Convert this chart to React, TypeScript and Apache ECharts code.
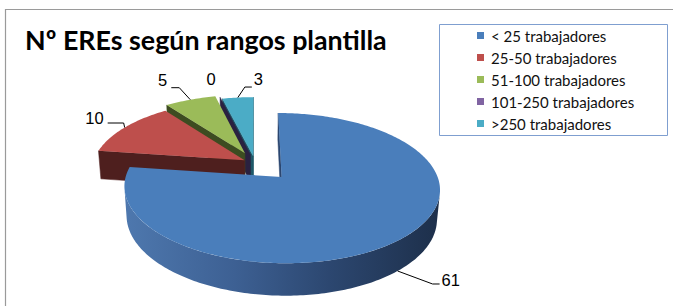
import React, { useEffect, useRef } from 'react';
import * as echarts from 'echarts';

// ---- data ----
const categories = ['< 25 trabajadores', '25-50 trabajadores', '51-100 trabajadores', '101-250 trabajadores', '>250 trabajadores'];
const values = [61, 10, 5, 0, 3];
const titleText = 'Nº EREs según rangos plantilla';

// ---- styles ----
const topColors = ['#4a7ebb', '#be4f4c', '#9bbb59', '#8064a2', '#4bacc6'];
const wallColors = ['#2b4670', '#4e1f1e', '#3d4c21', '#2a2140', '#1f5868'];
const explode = [0.26, 0.08, 0.16, 0.13, 0.1];
// label placement relative to the slice's rim anchor: elbow, end of leader, text position
const labelLayouts: any[] = [
  { elbow: [35, 13], end: [42, 13], text: [44, 9], align: 'left' },
  { elbow: [-1, -4.5], end: [-17, -4.5], text: [-21, -10], align: 'right' },
  { elbow: [-11, -12], end: [-19, -12], text: [-23, -20], align: 'right' },
  { elbow: null, end: null, text: [-9, -18], align: 'center' },
  { elbow: [7, -10.5], end: [14, -10.5], text: [16, -18.5], align: 'left' },
];

// ---- 3D projection ----
const CX = 255, CY = 163, R = 151.6, H = 32.6, SIN = 0.4575, COS = 0.889, DIST = 936;
const project = (X: number, Y: number, Z: number): number[] => {
  const d = Y * COS - Z * SIN;
  const s = DIST / (DIST + d);
  return [CX + X * s, CY - (Y * SIN + Z * COS) * s];
};

const total = values.reduce((a, b) => a + b, 0);
const starts = values.map((_, i) => values.slice(0, i).reduce((a, b) => a + b, 0));

function renderSlice(i: number, value: number) {
  const a0 = (starts[i] / total) * Math.PI * 2;
  const a1 = ((starts[i] + value) / total) * Math.PI * 2;
  const mid = (a0 + a1) / 2;
  const q = explode[i] * R;
  const ox = q * Math.sin(mid), oy = q * Math.cos(mid);
  const rim = (t: number, z: number) => project(ox + R * Math.sin(t), oy + R * Math.cos(t), z);
  const apexTop = project(ox, oy, 0);
  const apexBot = project(ox, oy, -H);
  const children: any[] = [];
  let z2 = 1;
  const camX = -ox, camY = -DIST * COS - oy;

  // radial walls
  const startVis = -Math.cos(a0) * camX + Math.sin(a0) * camY > 0;
  const endVis = Math.cos(a1) * camX - Math.sin(a1) * camY > 0;
  const radial = (a: number) => ({
    type: 'polygon', z2: z2++,
    shape: { points: [apexTop, rim(a, 0), rim(a, -H), apexBot] },
    style: { fill: wallColors[i], stroke: wallColors[i], lineWidth: 0.5 },
  });
  if (startVis) children.push(radial(a0));
  if (endVis && value > 0) children.push(radial(a1));

  // outer wall
  const A = -ox, B = -(DIST * COS + oy);
  const M = Math.hypot(A, B);
  const th0 = Math.atan2(A, B);
  const half = Math.acos(Math.min(1, R / M));
  for (let k = -1; k <= 1; k++) {
    const lo = Math.max(a0, th0 - half + 2 * Math.PI * k);
    const hi = Math.min(a1, th0 + half + 2 * Math.PI * k);
    if (hi > lo) {
      const n = Math.max(2, Math.ceil((hi - lo) / (Math.PI / 180)));
      const topPts: number[][] = [], botPts: number[][] = [];
      for (let j = 0; j <= n; j++) {
        const t = lo + ((hi - lo) * j) / n;
        topPts.push(rim(t, 0));
        botPts.push(rim(t, -H));
      }
      const fill = i === 0
        ? new echarts.graphic.LinearGradient(0, 0, 1, 0, [
            { offset: 0, color: '#4e78ae' },
            { offset: 0.35, color: '#3d6093' },
            { offset: 0.65, color: '#2c4770' },
            { offset: 1, color: '#1d2f4a' },
          ])
        : wallColors[i];
      children.push({
        type: 'polygon', z2: z2++,
        shape: { points: topPts.concat(botPts.reverse()) },
        style: { fill },
      });
    }
  }

  // top face
  if (value > 0) {
    const n = Math.max(2, Math.ceil((a1 - a0) / (Math.PI / 180)));
    const pts: number[][] = [apexTop];
    for (let j = 0; j <= n; j++) pts.push(rim(a0 + ((a1 - a0) * j) / n, 0));
    children.push({
      type: 'polygon', z2: z2++,
      shape: { points: pts },
      style: { fill: topColors[i] },
    });
  }

  // label
  const anchor = Math.cos(mid) < 0 ? rim(mid, -H) : rim(mid, 0);
  const L = labelLayouts[i];
  if (L.elbow) {
    children.push({
      type: 'polyline', z2: 100,
      shape: { points: [anchor, [anchor[0] + L.elbow[0], anchor[1] + L.elbow[1]], [anchor[0] + L.end[0], anchor[1] + L.end[1]]] },
      style: { stroke: '#000', lineWidth: 1, fill: null },
    });
  }
  children.push({
    type: 'text', z2: 101,
    x: anchor[0] + L.text[0], y: anchor[1] + L.text[1],
    style: {
      text: String(value), fill: '#000',
      fontFamily: '"Liberation Sans", Arial, sans-serif', fontSize: 16.5,
      align: L.align, verticalAlign: 'middle',
    },
  });
  return { type: 'group', children };
}

export default function App() {
  const ref = useRef<HTMLDivElement>(null);
  useEffect(() => {
    if (!ref.current) return;
    const chart = echarts.init(ref.current, undefined, { renderer: 'svg' });
    const option: any = {
      animation: false,
      backgroundColor: '#fff',
      title: {
        text: titleText, left: 25, top: 26, padding: 0,
        textStyle: { fontFamily: 'Lato', fontWeight: 'bold', fontSize: 26.8, color: '#000' },
      },
      legend: {
        orient: 'vertical', left: 477, top: 28, padding: 0,
        itemWidth: 7, itemHeight: 7, itemGap: 7, icon: 'rect',
        selectedMode: false, data: categories,
        textStyle: { fontFamily: 'Lato', fontSize: 15, color: '#111', padding: [0, 0, 0, 2] },
      },
      graphic: [
        { type: 'rect', z: -1, shape: { x: 5.5, y: 9.5, width: 800, height: 400 }, style: { fill: 'none', stroke: '#9a9a9a', lineWidth: 1.2 } },
        { type: 'rect', z: -1, shape: { x: 439.5, y: 24.5, width: 228, height: 111 }, style: { fill: '#fff', stroke: '#7f9fd0', lineWidth: 1 } },
      ],
      series: categories.map((name, i) => {
        const mid = ((starts[i] + values[i] / 2) / total) * Math.PI * 2;
        return {
          type: 'custom', name, coordinateSystem: 'none', silent: true,
          z: 3 - Math.cos(mid),
          itemStyle: { color: topColors[i] },
          data: [values[i]],
          renderItem: (_params: any, api: any) => renderSlice(i, api.value(0)),
        };
      }),
    };
    chart.setOption(option);
    return () => chart.dispose();
  }, []);
  return <div ref={ref} style={{ position: 'fixed', left: 0, top: 0, width: 673, height: 306 }} />;
}
